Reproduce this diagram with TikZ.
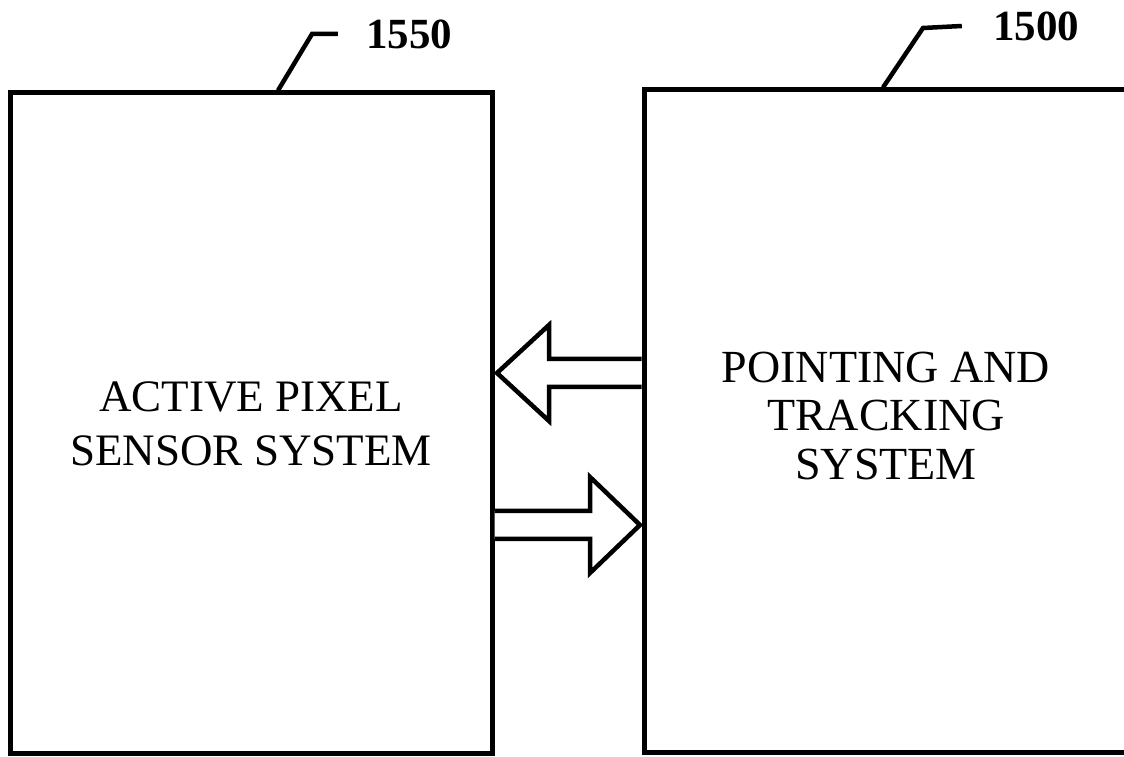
\documentclass[tikz,border=0pt]{standalone}
\usepackage{fontspec}
\setmainfont{Liberation Serif}
\tikzset{
  sysbox/.style={draw, line width=5pt, inner sep=0pt, align=center},
  blockarrow/.style={draw, line width=4.5pt, line join=miter, fill=white},
  leader/.style={line width=4.5pt},
  reflabel/.style={font=\fontsize{43}{43}\selectfont\bfseries, inner sep=0pt}
}
\begin{document}
\begin{tikzpicture}[x=1pt,y=1pt]
\useasboundingbox (0,0) rectangle (1124,757);
\clip (0,0) rectangle (1124,757);
\node[sysbox, minimum width=482pt, minimum height=661pt,
      font=\fontsize{45}{54}\selectfont] (aps) at (251,333.5)
  {ACTIVE PIXEL\\SENSOR SYSTEM};
\node[sysbox, minimum width=484pt, minimum height=663pt] (pts) at (886,335.5) {};
\node[font=\fontsize{46}{48.5}\selectfont, align=center, inner sep=0pt] (ptstext) at (886,341)
  {POINTING AND\\TRACKING\\SYSTEM};
% block arrows
\coordinate (a1base) at (pts.west |- 0,384);
\coordinate (a2base) at (aps.east |- 0,232);
\draw[blockarrow] ([yshift=14pt]a1base) -- (549,398) -- (549,432) -- (497,384)
  -- (549,336) -- (549,370) -- ([yshift=-14pt]a1base);
\draw[blockarrow] ([yshift=14pt]a2base) -- (590,246) -- (590,280) -- (640,232)
  -- (590,184) -- (590,218) -- ([yshift=-14pt]a2base);
% reference labels
\node[reflabel] (l1550) at (409,723) {1550};
\node[reflabel] (l1500) at (1036,731) {1500};
\coordinate (c1550) at (312,723);
\coordinate (c1500) at (923,729);
\draw[leader] (aps.north -| 278,0) -- (c1550) -- ([xshift=-28pt]l1550.west);
\draw[leader] (pts.north -| 883,0) -- (c1500) -- ([xshift=-31pt]l1500.west);
\end{tikzpicture}
\end{document}
